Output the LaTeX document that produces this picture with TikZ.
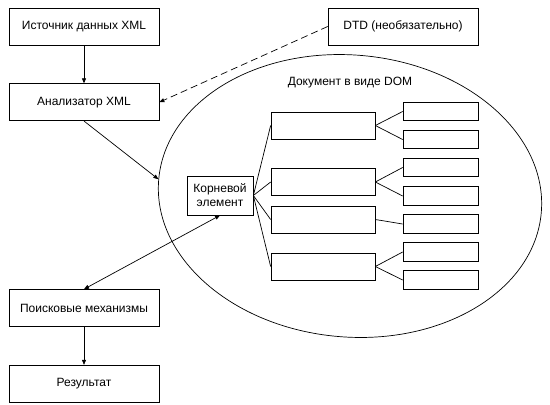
\documentclass[tikz,border=0pt]{standalone}
\usepackage{fontspec}
\setmainfont{Liberation Sans}
\usetikzlibrary{shapes.geometric, positioning, arrows.meta}

\begin{document}
\begin{tikzpicture}[
  x=1pt, y=-1pt,
  line width=0.7pt,
  font=\fontsize{12}{14}\selectfont,
  box/.style={draw, minimum width=150pt, minimum height=37pt, inner sep=0pt},
  branch/.style={draw, minimum width=104pt, minimum height=27pt, inner sep=0pt},
  leaf/.style={draw, minimum width=75pt, minimum height=18.5pt, inner sep=0pt},
  tip/.style={-{Triangle[length=5pt,width=4pt]}}
  ]
  \useasboundingbox (0,0) rectangle (550,405);
  % left column
  \node[box] (src) at (84,26.5) {Источник данных XML};
  \node[box, below = 38pt of src] (ana) {Анализатор XML};
  \node[box] (search) at (84,308) {Поисковые механизмы};
  \node[box, below = 38pt of search] (res) {Результат};
  \node[box] (dtd) at (403,26.5) {DTD (необязательно)};
  % DOM tree
  \node[
  draw,
  ellipse,
  inner sep=0pt,
  rotate=-5,
  minimum width=384pt,
  minimum height=282pt
  ] (dom) at (350,196) {};
  \node (domtitle) at (350,83) {Документ в виде DOM};
  \node[
  draw,
  align=center,
  inner sep=0pt,
  minimum width=66pt,
  minimum height=39pt
  ] (root) at (220,195.5) {Корневой\\элемент};
  \node[branch] (b1) at (323,125.5) {};
  \node[branch] (b2) at (323,182) {};
  \node[branch] (b3) at (323,219.5) {};
  \node[branch] (b4) at (323,266.5) {};
  \node[leaf] (l1) at (440.5,111.5) {};
  \node[leaf] (l2) at (440.5,139.5) {};
  \node[leaf] (l3) at (440.5,167.5) {};
  \node[leaf] (l4) at (440.5,196) {};
  \node[leaf] (l5) at (440.5,224) {};
  \node[leaf] (l6) at (440.5,252) {};
  \node[leaf] (l7) at (440.5,280) {};
  \draw (root.east) -- (b1.west);
  \draw (root.east) -- (b2.west);
  \draw (root.east) -- (b3.west);
  \draw (root.east) -- (b4.west);
  \draw (b1.east) -- (l1.west);
  \draw (b1.east) -- (l2.west);
  \draw (b2.east) -- (l3.west);
  \draw (b2.east) -- (l4.west);
  \draw (b3.east) -- (l5.west);
  \draw (b4.east) -- (l6.west);
  \draw (b4.east) -- (l7.west);
  % arrows
  \draw[tip] (src) -- (ana);
  \draw[tip] (ana.south) -- (dom.west);
  \draw[tip, dash pattern=on 7pt off 4pt] (dtd.west) -- (ana.east);
  \draw[{Triangle[length=5pt,width=4pt]}-{Triangle[length=5pt,width=4pt]}] (root.south) -- (search.north);
  \draw[tip] (search) -- (res);
\end{tikzpicture}
\end{document}
